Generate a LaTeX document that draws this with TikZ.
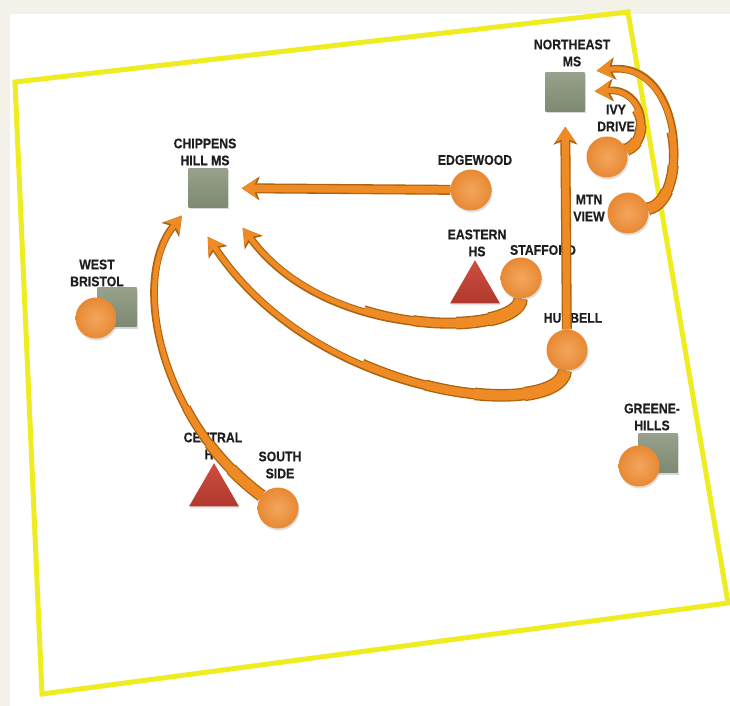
\documentclass[tikz,border=0pt]{standalone}
\usepackage{fontspec}
\setmainfont{Liberation Sans}[FakeStretch=0.88, BoldFeatures={FakeBold=0.4}]
\usepackage{xcolor}
\usetikzlibrary{positioning,shapes.geometric,shadows,arrows.meta}

\definecolor{paper}{HTML}{F4F2E8}
\definecolor{rim}{HTML}{F0EC22}
\definecolor{flowfill}{HTML}{EF8B25}
\definecolor{flowedge}{HTML}{AE630F}
\definecolor{elemin}{HTML}{F3A65E}
\definecolor{elemout}{HTML}{E88933}
\definecolor{mstop}{HTML}{97A18C}
\definecolor{msbot}{HTML}{7E8973}
\definecolor{hstop}{HTML}{CD5040}
\definecolor{hsbot}{HTML}{B0382E}
\definecolor{ink}{HTML}{1E1E1E}

\pgfdeclarelayer{backdrop}
\pgfdeclarelayer{labels}
\pgfdeclarelayer{flows}
\pgfsetlayers{backdrop,labels,flows,main}

\tikzset{
  elem/.style={circle, minimum size=12.3mm, inner sep=0pt, inner color=elemin, outer color=elemout,
    drop shadow={opacity=.25, shadow xshift=.3mm, shadow yshift=-.6mm}},
  ms/.style={rectangle, minimum size=11.7mm, inner sep=0pt, top color=mstop, bottom color=msbot,
    drop shadow={opacity=.3, shadow xshift=.4mm, shadow yshift=-.6mm}},
  hs/.style={regular polygon, regular polygon sides=3, minimum size=17.3mm, inner sep=0pt,
    top color=hstop, bottom color=hsbot, drop shadow={opacity=.2, shadow xshift=.3mm, shadow yshift=-.6mm}},
  lbl/.style={font=\bfseries\fontsize{11.9}{14.5}\selectfont, text=ink, align=center, inner sep=0pt},
  % straight flows
  flow/.style={draw=flowfill, line width=2.2mm,
    -{Stealth[length=4.6mm, width=6mm, inset=1.2mm, line width=0pt]},
    preaction={draw=flowedge, line width=3mm,
      -{Stealth[length=5.4mm, width=7.2mm, inset=1.4mm, line width=0pt]}}},
  % bent flows, thick at the start (four steps)
  bend/.style n args={4}{draw=flowfill, line width=1.5mm,
    -{Stealth[length=4.8mm, width=5.6mm, inset=1.2mm, line width=0pt]},
    preaction={draw=flowedge, line width=2.3mm,
      -{Stealth[length=5.6mm, width=6.8mm, inset=1.4mm, line width=0pt]}},
    preaction={draw=flowedge, line width=2.8mm, arrows=-, dash pattern=on #1 off 500mm},
    preaction={draw=flowedge, line width=3.3mm, arrows=-, dash pattern=on #2 off 500mm},
    preaction={draw=flowedge, line width=3.8mm, arrows=-, dash pattern=on #3 off 500mm},
    preaction={draw=flowedge, line width=4.3mm, arrows=-, dash pattern=on #4 off 500mm},
    postaction={draw=flowfill, line width=2.0mm, arrows=-, dash pattern=on #1 off 500mm},
    postaction={draw=flowfill, line width=2.5mm, arrows=-, dash pattern=on #2 off 500mm},
    postaction={draw=flowfill, line width=3.0mm, arrows=-, dash pattern=on #3 off 500mm},
    postaction={draw=flowfill, line width=3.5mm, arrows=-, dash pattern=on #4 off 500mm}},
  border/.style={draw=rim, line width=1.5mm, line join=miter}
}

\begin{document}
\begin{tikzpicture}[x=0.3mm, y=-0.3mm]
	\useasboundingbox (0,0) rectangle (730,706);

	% middle schools
	\node[ms] (chip) at (208,188) {};
	\node[ms] (ne) at (565,92) {};
	\node[ms] (wbsq) at (117,307) {};
	\node[ms] (ghsq) at (658,453) {};
	% high schools
	\node[hs] (east) at (475,289) {};
	\node[hs] (cent) at (214,492) {};
	% elementary schools
	\node[elem] (edge) at (471,190) {};
	\node[elem] (staf) at (521,278) {};
	\node[elem] (hub) at (567,350) {};
	\node[elem] (ivy) at (607,157) {};
	\node[elem] (mtn) at (628,213) {};
	\node[elem] (wb) at (96,318) {};
	\node[elem] (south) at (278,508) {};
	\node[elem] (gh) at (639,466) {};

	\begin{pgfonlayer}{backdrop}
		\fill[paper] (0,0) rectangle (730,706);
		\fill[white] (10,14) rectangle (730,706);
		\draw[border] (15,82) -- (628,12) -- (728,603) -- (42,694) -- cycle;
	\end{pgfonlayer}

	\begin{pgfonlayer}{labels}
		\node[lbl] (lchip) at (205,152) {CHIPPENS\\HILL MS};
		\node[lbl] (lne) at (572,53) {NORTHEAST\\MS};
		\node[lbl] (ledge) at (475,160) {EDGEWOOD};
		\node[lbl] (least) at (477,243) {EASTERN\\HS};
		\node[lbl] (lstaf) at (543,250) {STAFFORD};
		\node[lbl] (lhub) at (573,318) {HUBBELL};
		\node[lbl] (livy) at (616,118) {IVY\\DRIVE};
		\node[lbl] (lmtn) at (589,208) {MTN\\VIEW};
		\node[lbl] (lwb) at (97,273) {WEST\\BRISTOL};
		\node[lbl] (lcent) at (213,446) {CENTRAL\\HS};
		\node[lbl] (lsouth) at (280,465) {SOUTH\\SIDE};
		\node[lbl] (lgh) at (652,417) {GREENE-\\HILLS};
	\end{pgfonlayer}

	\begin{pgfonlayer}{flows}
		\draw[flow, shorten >=4.2mm] (edge) -- (chip);
		\draw[flow, shorten >=4.5mm] (hub) -- (ne);
		\draw[bend={50mm}{35mm}{22mm}{12mm}, shorten >=7.5mm] (staf) .. controls (520,335) and (330,345) .. (chip.south east);
		\draw[bend={65mm}{45mm}{30mm}{15mm}, shorten >=10.5mm] (hub) .. controls (560,420) and (320,405) .. (chip.south west);
		\draw[bend={35mm}{22mm}{12mm}{.1mm}, shorten >=3mm] (south) .. controls (160,420) and (130,280) .. (chip.south west);
		\draw[bend={14mm}{9mm}{4mm}{.1mm}, shorten >=3mm] (ivy) .. controls (652,140) and (645,88) .. (ne.east);
		\draw[bend={26mm}{16mm}{8mm}{.1mm}, shorten >=3.6mm] (mtn) .. controls (690,200) and (685,60) .. (ne.north east);
	\end{pgfonlayer}
\end{tikzpicture}
\end{document}
